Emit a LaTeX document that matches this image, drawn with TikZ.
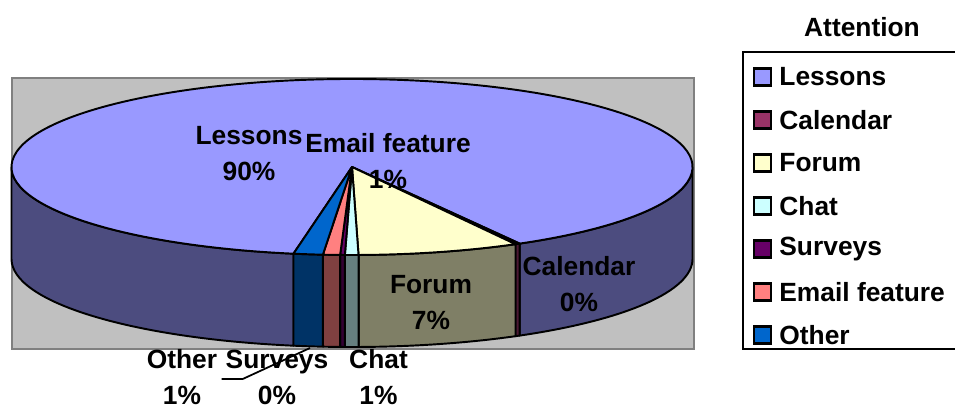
\documentclass[tikz,border=0pt]{standalone}
\usepackage{fontspec}
\setmainfont{Liberation Sans}
\usetikzlibrary{calc}
\definecolor{plotbg}{HTML}{C0C0C0}
\definecolor{plotrim}{HTML}{808080}
\definecolor{lessons}{HTML}{9999FF}
\definecolor{lessonsside}{HTML}{4C4C7F}
\definecolor{calendar}{HTML}{993366}
\definecolor{calendarside}{HTML}{4C1933}
\definecolor{forum}{HTML}{FFFFCC}
\definecolor{forumside}{HTML}{7F7F66}
\definecolor{chat}{HTML}{CCFFFF}
\definecolor{chatside}{HTML}{667F7F}
\definecolor{surveys}{HTML}{660066}
\definecolor{surveysside}{HTML}{330033}
\definecolor{email}{HTML}{FF8080}
\definecolor{emailside}{HTML}{7F4040}
\definecolor{other}{HTML}{0066CC}
\definecolor{otherside}{HTML}{003366}

\begin{document}
\begin{tikzpicture}[x=0.02cm,y=-0.02cm,
    lbl/.style={font=\bfseries\fontsize{15}{20.5}\selectfont,align=center,inner sep=0pt},
    edge/.style={draw=black,line width=1.1pt,line join=round},
    legsq/.style={draw=black,line width=1.2pt,minimum size=0.34cm,inner sep=0pt}]
\useasboundingbox (0,0) rectangle (955,408);
      % plot area
      \draw[fill=plotbg,draw=plotrim,line width=1.1pt] (12,78) rectangle (694,349);
      \coordinate (c) at (352,167);
      % side walls of the pie
      \foreach \a/\b/\col in {99.9/180/lessonsside,0/60.5/lessonsside,60.5/61.3/calendarside,
          61.3/88.9/forumside,88.9/91.2/chatside,91.2/92/surveysside,92/94.9/emailside,94.9/99.9/otherside}
        \draw[edge,fill=\col] (c) ++(\a:340.5 and 88) arc[start angle=\a,end angle=\b,x radius=340.5,y radius=88]
          -- ++(0,92) arc[start angle=\b,end angle=\a,x radius=340.5,y radius=88] -- cycle;
      % top of the pie
      \foreach \a/\b/\col in {99.9/420.5/lessons,60.5/61.3/calendar,61.3/88.9/forum,88.9/91.2/chat,
          91.2/92/surveys,92/94.9/email,94.9/99.9/other}
        \draw[edge,fill=\col] (c) -- ++(\a:340.5 and 88) arc[start angle=\a,end angle=\b,x radius=340.5,y radius=88] -- cycle;
      % data labels
      \node[lbl] (lessonslbl) at (249,154) {Lessons\\90\%};
      \node[lbl] (emaillbl) at (388,161) {Email feature\\1\%};
      \node[lbl] (forumlbl) at (431,303) {Forum\\7\%};
      \node[lbl] (calendarlbl) at (579,284) {Calendar\\0\%};
      \node[lbl] (otherlbl) at (182,377) {Other\\1\%};
      \node[lbl] (surveyslbl) at (277,377) {Surveys\\0\%};
      \node[lbl] (chatlbl) at (378.5,377) {Chat\\1\%};
      \coordinate (surveysfoot) at (221.7,379);
      \coordinate (surveystip) at (310,348);
      \draw[line width=1pt] (surveysfoot) -- ++(21,0) -- (surveystip);
      % legend
      \node[lbl] (legtitle) at (862,27) {Attention};
      \draw[line width=1.2pt] (742.7,51.7) rectangle (958,349.3);
      \foreach \name/\col [count=\i] in {Lessons/lessons,Calendar/calendar,Forum/forum,Chat/chat,
          Surveys/surveys,Email feature/email,Other/other}{
        \node[legsq,fill=\col] (sq\i) at (762.5,{77+(\i-1)*43}) {};
        \node[lbl,anchor=west] (leg\i) at ($(sq\i.east)+(7,0)$) {\name};
      }
\end{tikzpicture}
\end{document}
